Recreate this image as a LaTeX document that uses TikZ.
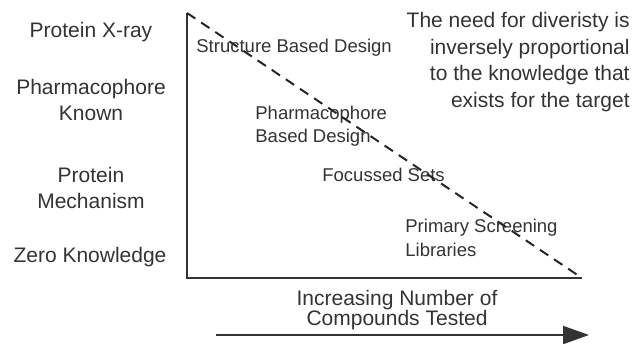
\documentclass[tikz,border=0pt]{standalone}
\usepackage{fontspec}
\setmainfont{Liberation Sans}
\usetikzlibrary{arrows.meta}
\definecolor{inkgrey}{gray}{0.2}
\tikzset{
  levlab/.style   = {align=center, font=\fontsize{10.5}{13}\selectfont,
                     text=inkgrey, inner sep=0pt},
  zonelab/.style  = {align=left, anchor=west, text=inkgrey, inner sep=0pt,
                     font=\fontsize{9.25}{11.7}\selectfont},
  notelab/.style  = {align=right, anchor=east, text=inkgrey, inner sep=0pt,
                     font=\fontsize{10.5}{13.4}\selectfont},
  axisline/.style = {draw=inkgrey, line width=1.1pt, line join=miter},
  bound/.style    = {draw=black!85, line width=1pt,
                     dash pattern=on 5pt off 3.5pt},
  trendarr/.style = {-{Triangle[length=13pt,width=9pt]}, draw=inkgrey,
                     fill=inkgrey, line width=1pt},
}

\begin{document}
\begin{tikzpicture}[x=0.5pt, y=-0.5pt]
  \useasboundingbox (0,0) rectangle (636,343);

  % triangle corners
  \coordinate (top)    at (187,13);
  \coordinate (corner) at (187,278);
  \coordinate (tip)    at (582,278);

  % knowledge levels
  \node[levlab] (xray)  at (91,32)  {Protein X-ray};
  \node[levlab] (pharm) at (91,100) {Pharmacophore\\Known};
  \node[levlab] (mech)  at (91,188) {Protein\\Mechanism};
  \node[levlab] (zero)  at (90,257) {Zero Knowledge};

  % design regions
  \node[zonelab] (sbd)  at (196,48)    {Structure Based Design};
  \node[zonelab] (pbd)  at (255,126.5) {Pharmacophore\\Based Design};
  \node[zonelab] (foc)  at (322,175)   {Focussed Sets};
  \node[zonelab] (prim) at (405,238)   {Primary Screening\\Libraries};

  \node[notelab] (note) at (630,62) {The need for diveristy is\\
        inversely proportional\\ to the knowledge that\hspace*{6pt}\\
        exists for the target};

  \draw[axisline] (top) -- (corner) -- (tip);
  \draw[bound] (top) -- (tip);

  \node[levlab, font=\fontsize{10.5}{10}\selectfont] (cmpd) at (397,310)
        {Increasing Number of\\Compounds Tested};
  \coordinate (arrS) at (216,335);
  \coordinate (arrE) at (589,335);
  \draw[trendarr] (arrS) -- (arrE);
\end{tikzpicture}
\end{document}
